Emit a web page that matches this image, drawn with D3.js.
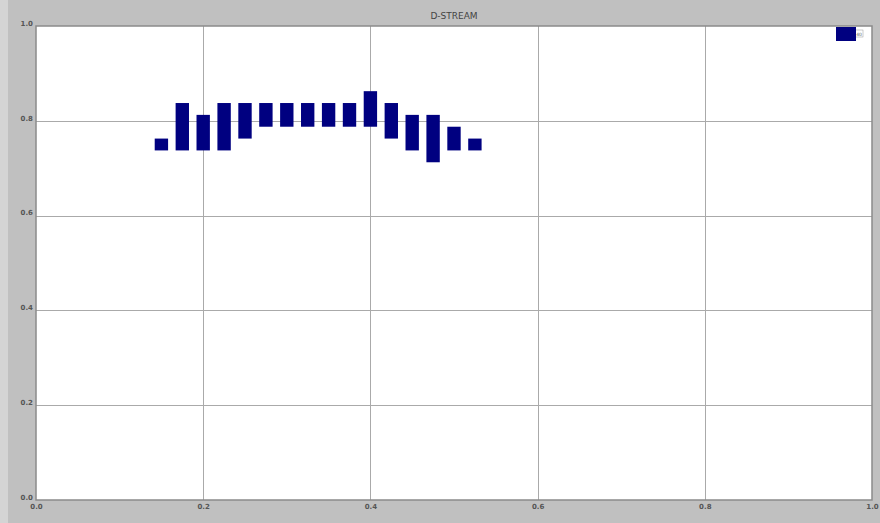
<!DOCTYPE html>
<html>
<head>
<meta charset="utf-8">
<script src="https://cdn.jsdelivr.net/npm/d3@7"></script>
<style>
  html, body { margin: 0; padding: 0; background: #c0c0c0; }
  svg { display: block; }
  text { font-family: "DejaVu Sans", sans-serif; }
</style>
</head>
<body>
<script>
// Floating bars: each column spans from its low to its high value.
const xPositions = [0.15, 0.175, 0.2, 0.225, 0.25, 0.275, 0.3, 0.325, 0.35, 0.375, 0.4, 0.425, 0.45, 0.475, 0.5, 0.525];
const lowValues  = [0.7375, 0.7375, 0.7375, 0.7375, 0.7625, 0.7875, 0.7875, 0.7875, 0.7875, 0.7875, 0.7875, 0.7625, 0.7375, 0.7125, 0.7375, 0.7375];
const highValues = [0.7625, 0.8375, 0.8125, 0.8375, 0.8375, 0.8375, 0.8375, 0.8375, 0.8375, 0.8375, 0.8625, 0.8375, 0.8125, 0.8125, 0.7875, 0.7625];
const xTicks = [0.0, 0.2, 0.4, 0.6, 0.8, 1.0];
const yTicks = [0.0, 0.2, 0.4, 0.6, 0.8, 1.0];
const titleText = "D-STREAM";
const legendLabel = "40";
const barWidth = 0.016;

const W = 880, H = 523;
const margin = { left: 36, right: 8, top: 26, bottom: 23 };

const svg = d3.select("body").append("svg").attr("width", W).attr("height", H);

// figure background with a lighter strip on the far left
svg.append("rect").attr("width", W).attr("height", H).attr("fill", "#c0c0c0");
svg.append("rect").attr("width", 8).attr("height", H).attr("fill", "#d4d4d4");

const x = d3.scaleLinear().domain([0, 1]).range([margin.left, W - margin.right]);
const y = d3.scaleLinear().domain([0, 1]).range([H - margin.bottom, margin.top]);

// plot area
svg.append("rect")
  .attr("x", x(0)).attr("y", y(1))
  .attr("width", x(1) - x(0)).attr("height", y(0) - y(1))
  .attr("fill", "#ffffff");

// grid
const grid = svg.append("g").attr("stroke", "#aaaaaa").attr("stroke-width", 1);
grid.selectAll("line.vx").data(xTicks.slice(1, -1)).join("line")
  .attr("x1", d => Math.round(x(d)) + 0.5).attr("x2", d => Math.round(x(d)) + 0.5)
  .attr("y1", y(1)).attr("y2", y(0));
grid.selectAll("line.hy").data(yTicks.slice(1, -1)).join("line")
  .attr("y1", d => Math.round(y(d)) + 0.5).attr("y2", d => Math.round(y(d)) + 0.5)
  .attr("x1", x(0)).attr("x2", x(1));

// bars
svg.append("g").selectAll("rect").data(xPositions).join("rect")
  .attr("x", (d) => x(d - barWidth / 2))
  .attr("width", x(barWidth) - x(0))
  .attr("y", (d, i) => y(highValues[i]))
  .attr("height", (d, i) => y(lowValues[i]) - y(highValues[i]))
  .attr("fill", "#000080");

// axes frame
svg.append("rect")
  .attr("x", x(0)).attr("y", y(1))
  .attr("width", x(1) - x(0)).attr("height", y(0) - y(1))
  .attr("fill", "none").attr("stroke", "#8a8a8a").attr("stroke-width", 1.5);

// axes with tick labels
const xAxis = d3.axisBottom(x).tickValues(xTicks).tickSize(0).tickPadding(4).tickFormat(d3.format(".1f"));
const yAxis = d3.axisLeft(y).tickValues(yTicks).tickSize(0).tickPadding(3).tickFormat(d3.format(".1f"));
const gx = svg.append("g").attr("transform", `translate(0,${y(0)})`).call(xAxis);
const gy = svg.append("g").attr("transform", `translate(${x(0)},0)`).call(yAxis);
[gx, gy].forEach(g => {
  g.select(".domain").remove();
  g.selectAll("text").attr("font-size", 7).attr("fill", "#555555").attr("font-weight", "bold")
    .attr("font-family", "DejaVu Sans, sans-serif");
});
gy.selectAll("text").attr("dy", "-0.1em");

// title
svg.append("text")
  .attr("x", (x(0) + x(1)) / 2).attr("y", 19)
  .attr("text-anchor", "middle")
  .attr("font-size", 9).attr("fill", "#444444")
  .text(titleText);

// legend
const lg = svg.append("g");
lg.append("rect").attr("x", 855).attr("y", 30).attr("width", 8).attr("height", 7)
  .attr("fill", "#ffffff").attr("stroke", "#999999").attr("stroke-width", 0.5);
lg.append("rect").attr("x", 836).attr("y", 27).attr("width", 20).attr("height", 14).attr("fill", "#000080");
lg.append("text").attr("x", 859).attr("y", 35.5).attr("text-anchor", "middle")
  .attr("font-size", 4.5).attr("fill", "#666666").text(legendLabel);
</script>
</body>
</html>
